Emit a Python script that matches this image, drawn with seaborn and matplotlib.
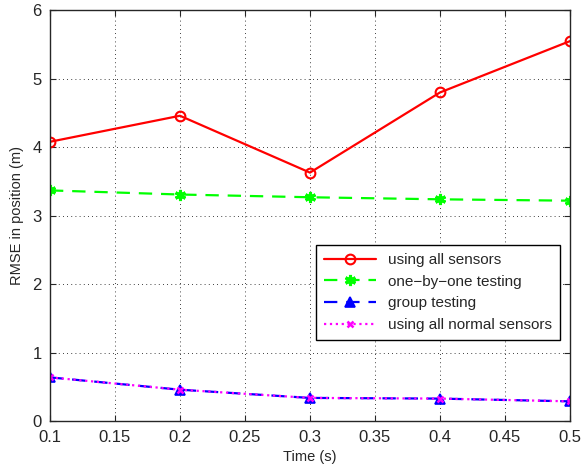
import matplotlib
matplotlib.use("Agg")
import matplotlib.pyplot as plt
import pandas as pd
import seaborn as sns

time_s = [0.1, 0.2, 0.3, 0.4, 0.5]
all_sensors = [4.08, 4.46, 3.63, 4.80, 5.55]
one_by_one = [3.37, 3.31, 3.27, 3.24, 3.22]
group_testing = [0.64, 0.46, 0.34, 0.33, 0.29]
all_normal = [0.64, 0.46, 0.34, 0.33, 0.29]

sns.set_style("ticks")
plt.rcParams["font.family"] = ["Liberation Sans", "DejaVu Sans"]

df = pd.DataFrame({
    "time": time_s * 4,
    "rmse": all_sensors + one_by_one + group_testing + all_normal,
    "method": (["using all sensors"] * 5 + ["one\u2212by\u2212one testing"] * 5
               + ["group testing"] * 5 + ["using all normal sensors"] * 5),
})

# matlab-ish line styles per series
styles = {
    "using all sensors": dict(color="#ff0000", ls="-", marker="o", mfc="none", ms=7, mew=1.5),
    "one\u2212by\u2212one testing": dict(color="#00ff00", ls=(0, (6, 4)), marker=(6, 2, 0), mfc="#00ff00", ms=8, mew=2.2),
    "group testing": dict(color="#0000ff", ls=(0, (6, 4)), marker="^", mfc="#0000ff", ms=7, mew=1.2),
    "using all normal sensors": dict(color="#ff00ff", ls=":", marker="x", mfc="#ff00ff", ms=5, mew=1.8),
}

fig, ax = plt.subplots(figsize=(5.81, 4.68), dpi=100)
for name, st in styles.items():
    sub = df[df["method"] == name]
    sns.lineplot(data=sub, x="time", y="rmse", ax=ax, label=name, color=st["color"],
                 linestyle=st["ls"], marker=st["marker"], markerfacecolor=st["mfc"],
                 markeredgecolor=st["color"], markersize=st["ms"], markeredgewidth=st["mew"],
                 linewidth=1.6)

ax.set_xlim(0.1, 0.5)
ax.set_ylim(0, 6)
ax.set_xticks([0.1, 0.15, 0.2, 0.25, 0.3, 0.35, 0.4, 0.45, 0.5])
ax.set_xticklabels(["0.1", "0.15", "0.2", "0.25", "0.3", "0.35", "0.4", "0.45", "0.5"])
ax.set_yticks(range(7))
ax.grid(True, color="black", linestyle=(0, (1, 4)), linewidth=0.6)
ax.tick_params(direction="in", labelsize=12, length=4, top=True, right=True)
ax.tick_params(axis="x", pad=6)
ax.tick_params(axis="y", pad=6)
for sp in ax.spines.values():
    sp.set_linewidth(1.0)
    sp.set_visible(True)
ax.set_xlabel("Time (s)", fontsize=10.5, labelpad=4)
ax.set_ylabel("RMSE in position (m)", fontsize=10.5, labelpad=6)

leg = ax.legend(loc="lower right", bbox_to_anchor=(0.995, 0.18), fontsize=11,
                frameon=True, fancybox=False, edgecolor="black", framealpha=1,
                handlelength=3.4, borderpad=0.5, labelspacing=0.5)
leg.get_frame().set_linewidth(1.0)

fig.subplots_adjust(left=0.086, right=0.981, bottom=0.1, top=0.978)
fig.savefig("out.png", dpi=100)
